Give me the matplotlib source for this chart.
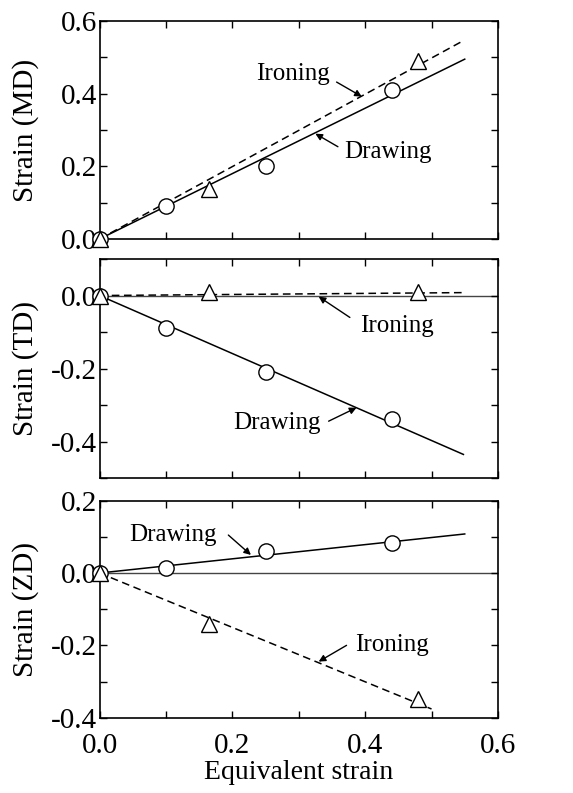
import numpy as np
import matplotlib.pyplot as plt
from matplotlib.ticker import MultipleLocator, FormatStrFormatter

plt.rcParams['font.family'] = ['Liberation Serif', 'DejaVu Serif']
plt.rcParams['axes.unicode_minus'] = False

# measured points (equivalent strain vs strain component)
draw_x = [0.0, 0.10, 0.25, 0.44]
iron_x = [0.0, 0.165, 0.48]

md_draw = [0.0, 0.092, 0.202, 0.410]
md_iron = [0.0, 0.139, 0.490]
td_draw = [0.0, -0.089, -0.209, -0.339]
td_iron = [0.0, 0.010, 0.010]
zd_draw = [0.0, 0.014, 0.061, 0.083]
zd_iron = [0.0, -0.140, -0.349]

# fitted lines (end points)
md_draw_fit = ([0.0, 0.55], [0.0, 0.495])
md_iron_fit = ([0.0, 0.545], [0.0, 0.543])
td_draw_fit = ([0.0, 0.548], [0.0, -0.435])
td_iron_fit = ([0.0, 0.55], [0.0, 0.008])
zd_draw_fit = ([0.0, 0.55], [0.0, 0.108])
zd_iron_fit = ([0.0, 0.50], [0.0, -0.376])

panels = [
    dict(label='Strain (MD)', ylim=(0.0, 0.6), draw=md_draw, iron=md_iron,
         draw_fit=md_draw_fit, iron_fit=md_iron_fit, zero=False,
         notes=[('Ironing', (0.291, 0.454), (0.357, 0.432), (0.395, 0.392)),
                ('Drawing', (0.434, 0.240), (0.359, 0.254), (0.325, 0.290))]),
    dict(label='Strain (TD)', ylim=(-0.5, 0.1), draw=td_draw, iron=td_iron,
         draw_fit=td_draw_fit, iron_fit=td_iron_fit, zero=True,
         notes=[('Ironing', (0.448, -0.083), (0.377, -0.060), (0.330, -0.003)),
                ('Drawing', (0.267, -0.348), (0.345, -0.344), (0.387, -0.307))]),
    dict(label='Strain (ZD)', ylim=(-0.4, 0.2), draw=zd_draw, iron=zd_iron,
         draw_fit=zd_draw_fit, iron_fit=zd_iron_fit, zero=True,
         notes=[('Drawing', (0.111, 0.105), (0.194, 0.105), (0.228, 0.050)),
                ('Ironing', (0.440, -0.200), (0.372, -0.200), (0.330, -0.245))]),
]

fig = plt.figure(figsize=(5.73, 7.93), dpi=100)
left, width = 0.1737, 0.6953
boxes = [(0.6986, 0.2749), (0.3970, 0.2764), (0.0950, 0.2736)]

mk = dict(markersize=11, markerfacecolor='white', markeredgecolor='black',
          markeredgewidth=1.0, linestyle='none', zorder=5, clip_on=False)

for i, (p, (b, h)) in enumerate(zip(panels, boxes)):
    ax = fig.add_axes([left, b, width, h])
    if p['zero']:
        ax.axhline(0.0, color='#444444', lw=1.0, zorder=1)
    ax.plot(*p['draw_fit'], color='black', lw=1.1, zorder=2)
    ax.plot(*p['iron_fit'], color='black', lw=1.1, ls=(0, (5, 3)), zorder=2)
    ax.plot(draw_x, p['draw'], marker='o', **mk)
    ax.plot(iron_x, p['iron'], marker='^', **mk)

    for txt, tpos, start, end in p['notes']:
        ax.text(*tpos, txt, fontsize=18, ha='center', va='center')
        ax.annotate('', xy=end, xytext=start,
                    arrowprops=dict(arrowstyle='-|>', color='black', lw=1.0,
                                    mutation_scale=10, shrinkA=0, shrinkB=0))

    ax.set_xlim(0.0, 0.6)
    ax.set_ylim(*p['ylim'])
    ax.xaxis.set_major_locator(MultipleLocator(0.2))
    ax.xaxis.set_minor_locator(MultipleLocator(0.1))
    ax.yaxis.set_major_locator(MultipleLocator(0.2))
    ax.yaxis.set_minor_locator(MultipleLocator(0.1))
    ax.yaxis.set_major_formatter(FormatStrFormatter('%.1f'))
    ax.xaxis.set_major_formatter(FormatStrFormatter('%.1f'))
    ax.tick_params(which='both', direction='in', top=True, right=True,
                   length=5, width=1.0, labelsize=21)
    ax.tick_params(axis='y', pad=2)
    ax.tick_params(axis='x', pad=11)
    if i < 2:
        ax.tick_params(labelbottom=False)
    else:
        ax.set_xlabel('Equivalent strain', fontsize=20, labelpad=1)
    ax.set_ylabel(p['label'], fontsize=21, va='center')
    ax.yaxis.set_label_coords(-0.185, 0.5)
    for s in ax.spines.values():
        s.set_linewidth(1.2)

fig.savefig('out.png', dpi=100)
